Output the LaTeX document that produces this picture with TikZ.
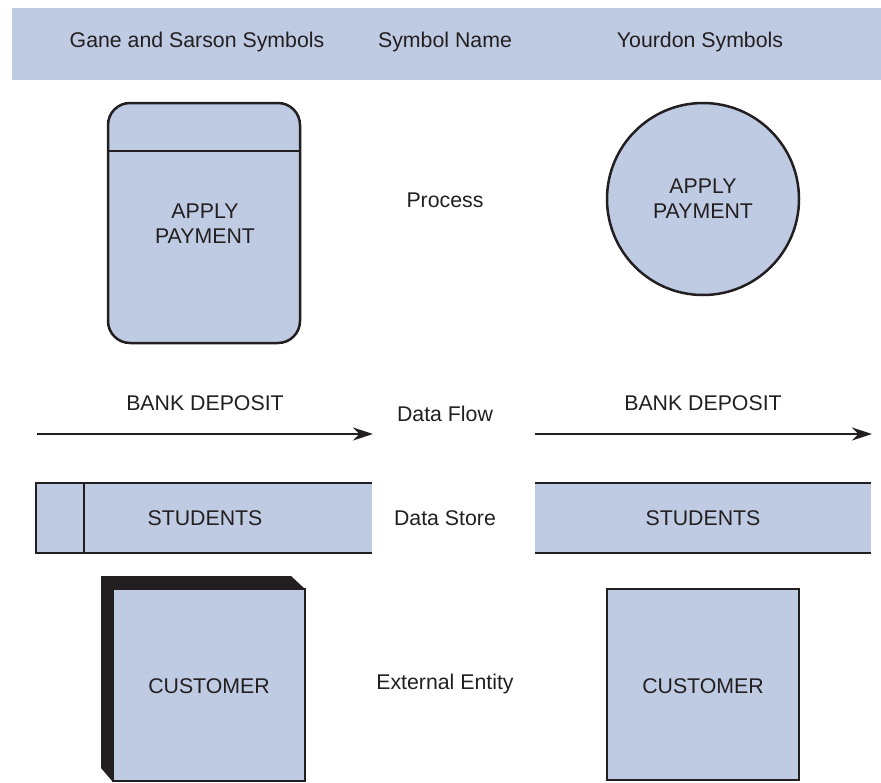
\documentclass[tikz,border=0pt]{standalone}
\usepackage{fontspec}
\setmainfont{Liberation Sans}
\usetikzlibrary{arrows.meta}
\definecolor{symfill}{RGB}{191,203,227}
\definecolor{ink}{RGB}{35,31,32}
\begin{document}
\begin{tikzpicture}[x=1pt,y=-1pt,
  lbl/.style={font=\fontsize{21.3}{25}\selectfont, text=ink, inner sep=0pt, align=center},
  shapeline/.style={draw=ink, line width=2.5pt},
  flow/.style={draw=ink, line width=2pt, -{Stealth[length=20pt,width=13pt]}}]
\useasboundingbox (0,0) rectangle (881,782);
% header
\fill[symfill] (12,8) rectangle (881,80);
\node[lbl] (h1) at (197,42) {Gane and Sarson Symbols};
\node[lbl] (h2) at (445,42) {Symbol Name};
\node[lbl] (h3) at (700,42) {Yourdon Symbols};
% process
\draw[shapeline, fill=symfill, rounded corners=22pt] (108,103) rectangle (300,343);
\draw[shapeline] (108,151) -- (300,151);
\node[lbl, text width=150pt] (gp) at (205,224) {APPLY\\PAYMENT};
\node[lbl] (pn) at (445,200) {Process};
\draw[shapeline, fill=symfill] (703,199) circle (96);
\node[lbl, text width=150pt] (yp) at (703,199) {APPLY\\PAYMENT};
% data flow
\coordinate (fa1) at (37,434);
\coordinate (fa2) at (373,434);
\coordinate (fb1) at (535,434);
\coordinate (fb2) at (872,434);
\draw[flow] (fa1) -- (fa2);
\draw[flow] (fb1) -- (fb2);
\node[lbl] (bd1) at (205,403) {BANK DEPOSIT};
\node[lbl] (bd2) at (703,403) {BANK DEPOSIT};
\node[lbl] (dfn) at (445,414) {Data Flow};
% data store
\fill[symfill] (36,483) rectangle (372,553);
\draw[shapeline] (372,483) -- (36,483) -- (36,553) -- (372,553);
\draw[shapeline] (84,483) -- (84,553);
\node[lbl] (ds1) at (205,518) {STUDENTS};
\fill[symfill] (535,483) rectangle (871,553);
\draw[shapeline] (535,483) -- (871,483);
\draw[shapeline] (535,553) -- (871,553);
\node[lbl] (ds2) at (703,518) {STUDENTS};
\node[lbl] (dsn) at (445,518) {Data Store};
% external entity
\fill[ink] (101,576) -- (291,576) -- (305,589) -- (113,589) -- (113,782) -- (101,768) -- cycle;
\draw[shapeline, fill=symfill] (113,589) rectangle (305,781);
\node[lbl] (ee1) at (209,686) {CUSTOMER};
\draw[shapeline, fill=symfill] (607,589) rectangle (799,780);
\node[lbl] (ee2) at (703,686) {CUSTOMER};
\node[lbl] (een) at (445,684) {External Entity};
\end{tikzpicture}
\end{document}
